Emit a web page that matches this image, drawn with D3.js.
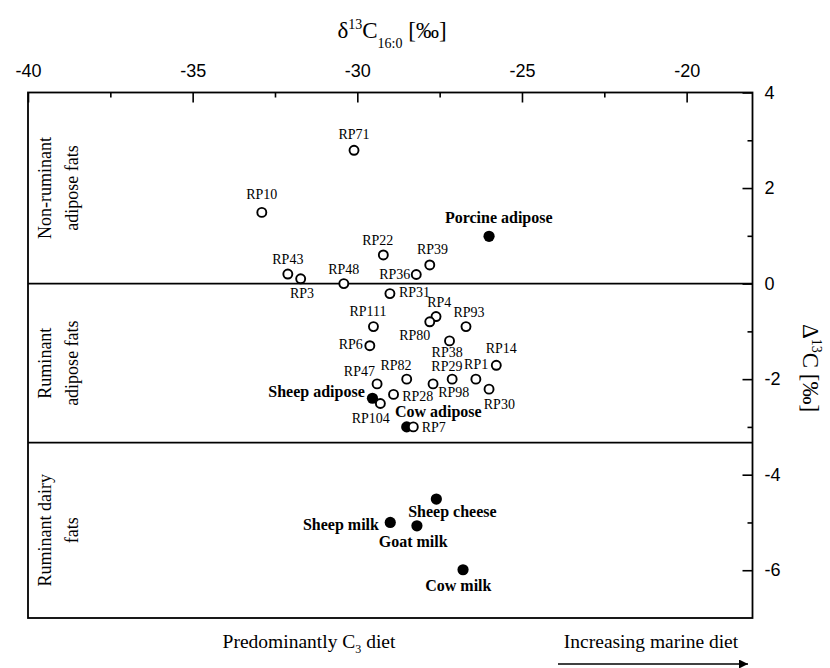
<!DOCTYPE html>
<meta charset="utf-8">
<head>
  <script src="https://cdn.jsdelivr.net/npm/d3@7/dist/d3.min.js"></script>
  <style>
    body { margin: 0; background: #fff; }
    .serif { font-family: "Liberation Serif", "Times New Roman", serif; }
    .tick text { font-family: "Liberation Sans", Arial, sans-serif; font-size: 18px; fill: #000; }
    .tick line { stroke: #000; stroke-width: 1.6px; }
  </style>
</head>
<body>
  <div id="chart"></div>
  <script>
    // sample fats (open circles)
    var samples = ["RP71", "RP10", "RP22", "RP39", "RP43", "RP3", "RP48", "RP36", "RP31",
                   "RP4", "RP80", "RP93", "RP111", "RP6", "RP38", "RP14", "RP47", "RP82",
                   "RP29", "RP1", "RP98", "RP30", "RP28", "RP104", "RP7"];
    var sampleD13C = [-30.10, -32.9, -29.21, -27.8, -32.11, -31.72, -30.41, -28.21, -29.01,
                      -27.61, -27.80, -26.70, -29.51, -29.62, -27.20, -25.78, -29.40, -28.50,
                      -27.12, -26.40, -27.70, -26.0, -28.90, -29.30, -28.30];
    var sampleBigD = [2.79, 1.49, 0.60, 0.39, 0.20, 0.10, 0.0, 0.19, -0.21,
                      -0.69, -0.80, -0.90, -0.90, -1.30, -1.20, -1.71, -2.10, -2.00,
                      -2.00, -2.00, -2.10, -2.21, -2.32, -2.51, -3.00];

    // reference fats (filled circles)
    var refs = ["Porcine adipose", "Sheep adipose", "Cow adipose", "Sheep cheese",
                "Sheep milk", "Goat milk", "Cow milk"];
    var refD13C = [-26.0, -29.54, -28.5, -27.6, -29.0, -28.19, -26.79];
    var refBigD = [0.99, -2.40, -3.00, -4.51, -5.00, -5.07, -5.99];

    // fat groups and boundaries
    var groupLines = [["Non-ruminant", "adipose fats"], ["Ruminant", "adipose fats"], ["Ruminant dairy", "fats"]];
    var groupBounds = [4, 0, -3.33, -7];

    var xMajor = [-40, -35, -30, -25, -20], xMinor = [-37.5, -32.5, -27.5, -22.5];
    var yMajor = [4, 2, 0, -2, -4, -6], yMinor = [3, 1, -1, -3, -5];

    // label placement: [dx, dy, anchor]
    var labelPos = {
      "RP71": [0, -16, "middle"], "RP10": [0, -18, "middle"], "RP22": [-5.6, -14.7, "middle"],
      "RP39": [2.7, -15.7, "middle"], "RP43": [0, -14.7, "middle"], "RP3": [1.3, 14.6, "middle"],
      "RP48": [0, -14, "middle"], "RP36": [-6, 0, "end"], "RP31": [9, -1, "start"],
      "RP4": [3.3, -14, "middle"], "RP80": [-15, 13.3, "middle"], "RP93": [3, -14, "middle"],
      "RP111": [-5.4, -15, "middle"], "RP6": [-7, -1.4, "end"], "RP38": [-2.4, 11.3, "middle"],
      "RP14": [5, -16.3, "middle"], "RP47": [-17.7, -12.3, "middle"], "RP82": [-10.7, -13.6, "middle"],
      "RP29": [-5.3, -12.6, "middle"], "RP1": [0.3, -15, "middle"], "RP98": [20.7, 8.7, "middle"],
      "RP30": [10.3, 15.3, "middle"], "RP28": [8.6, 1.7, "start"], "RP104": [-9.6, 14.6, "middle"],
      "RP7": [8.4, 0.7, "start"],
      "Porcine adipose": [9.7, -18.7, "middle"], "Sheep adipose": [-7.7, -6.6, "end"],
      "Cow adipose": [31.6, -15.3, "middle"], "Sheep cheese": [16, 12.7, "middle"],
      "Sheep milk": [-11.3, 1.6, "end"], "Goat milk": [-3.7, 15.7, "middle"], "Cow milk": [-4.7, 15.7, "middle"]
    };

    var W = 830, H = 668;
    var svg = d3.select("#chart").append("svg")
        .attr("width", W).attr("height", H);

    var x = d3.scaleLinear().domain([-40, -18]).range([28, 752.5]);
    var y = d3.scaleLinear().domain([-7, 4]).range([618, 92.5]);

    // top axis
    svg.append("g").attr("transform", "translate(0," + y(4) + ")")
        .call(d3.axisTop(x).tickValues(xMajor).tickSize(-10).tickPadding(16).tickFormat(d => String(d)))
        .call(g => g.select(".domain").remove());
    svg.append("g").attr("transform", "translate(0," + y(4) + ")")
        .call(d3.axisTop(x).tickValues(xMinor).tickSize(-5).tickFormat(""))
        .call(g => g.select(".domain").remove());

    // right axis
    svg.append("g").attr("transform", "translate(" + x(-18) + ",0)")
        .call(d3.axisRight(y).tickValues(yMajor).tickSize(-10).tickPadding(12).tickFormat(d => String(d)))
        .call(g => g.select(".domain").remove());
    svg.append("g").attr("transform", "translate(" + x(-18) + ",0)")
        .call(d3.axisRight(y).tickValues(yMinor).tickSize(-5).tickFormat(""))
        .call(g => g.select(".domain").remove());

    // frame
    svg.append("rect")
        .attr("x", x(-40)).attr("y", y(4))
        .attr("width", x(-18) - x(-40)).attr("height", y(-7) - y(4))
        .attr("fill", "none").attr("stroke", "#000").attr("stroke-width", 1.8);

    // group separators
    svg.selectAll(".sep").data(groupBounds.slice(1, 3)).enter().append("line")
        .attr("x1", x(-40)).attr("x2", x(-18))
        .attr("y1", d => y(d)).attr("y2", d => y(d))
        .attr("stroke", "#000").attr("stroke-width", 1.8);

    // group labels on the left
    groupLines.forEach(function(lines, i) {
      var cy = (y(groupBounds[i]) + y(groupBounds[i + 1])) / 2;
      lines.forEach(function(t, j) {
        svg.append("text").attr("class", "serif")
            .attr("transform", "translate(" + (45 + j * 27) + "," + cy + ") rotate(-90)")
            .attr("text-anchor", "middle").attr("dominant-baseline", "central")
            .style("font-size", "18px").text(t);
      });
    });

    // filled reference points
    var refData = refs.map((n, i) => ({name: n, x: refD13C[i], y: refBigD[i]}));
    var sampleData = samples.map((n, i) => ({name: n, x: sampleD13C[i], y: sampleBigD[i]}));

    svg.selectAll(".ref").data(refData).enter().append("circle")
        .attr("cx", d => x(d.x)).attr("cy", d => y(d.y)).attr("r", 5.6)
        .attr("fill", "#000");
    svg.selectAll(".smp").data(sampleData).enter().append("circle")
        .attr("cx", d => x(d.x)).attr("cy", d => y(d.y)).attr("r", 4.5)
        .attr("fill", "#fff").attr("stroke", "#000").attr("stroke-width", 1.9);

    // labels
    svg.selectAll(".slab").data(sampleData).enter().append("text").attr("class", "serif")
        .attr("x", d => x(d.x) + labelPos[d.name][0])
        .attr("y", d => y(d.y) + labelPos[d.name][1])
        .attr("text-anchor", d => labelPos[d.name][2])
        .attr("dominant-baseline", "central")
        .style("font-size", "14px").text(d => d.name);
    svg.selectAll(".rlab").data(refData).enter().append("text").attr("class", "serif")
        .attr("x", d => x(d.x) + labelPos[d.name][0])
        .attr("y", d => y(d.y) + labelPos[d.name][1])
        .attr("text-anchor", d => labelPos[d.name][2])
        .attr("dominant-baseline", "central")
        .style("font-size", "16px").style("font-weight", "bold").text(d => d.name);

    // top title
    var tt = svg.append("text").attr("class", "serif")
        .attr("x", 392).attr("y", 38).attr("text-anchor", "middle")
        .style("font-size", "23px");
    tt.append("tspan").text("\u03b4");
    tt.append("tspan").attr("dy", -9).style("font-size", "14px").text("13");
    tt.append("tspan").attr("dy", 9).text("C");
    tt.append("tspan").attr("dy", 10).style("font-size", "14px").text("16:0");
    tt.append("tspan").attr("dy", -10).text(" [\u2030]");

    // right title
    var rt = svg.append("text").attr("class", "serif")
        .attr("transform", "translate(803,368) rotate(90)").attr("text-anchor", "middle")
        .style("font-size", "23px");
    rt.append("tspan").text("\u0394");
    rt.append("tspan").attr("dy", -9).style("font-size", "14px").text("13");
    rt.append("tspan").attr("dy", 9).text("C [\u2030]");

    // bottom annotations
    var b1 = svg.append("text").attr("class", "serif")
        .attr("x", 309).attr("y", 648).attr("text-anchor", "middle")
        .style("font-size", "19.5px");
    b1.append("tspan").text("Predominantly C");
    b1.append("tspan").attr("dy", 5).style("font-size", "12px").text("3");
    b1.append("tspan").attr("dy", -5).text(" diet");

    svg.append("text").attr("class", "serif")
        .attr("x", 651).attr("y", 648).attr("text-anchor", "middle")
        .style("font-size", "19.5px").text("Increasing marine diet");

    svg.append("defs").append("marker").attr("id", "arr")
        .attr("viewBox", "0 0 10 10").attr("refX", 10).attr("refY", 5)
        .attr("markerWidth", 9).attr("markerHeight", 6).attr("orient", "auto")
        .append("path").attr("d", "M0,0L10,5L0,10z").attr("fill", "#000");
    svg.append("line").attr("x1", 558).attr("x2", 748).attr("y1", 664).attr("y2", 664)
        .attr("stroke", "#000").attr("stroke-width", 1.5).attr("marker-end", "url(#arr)");
  </script>
</body>
</html>
